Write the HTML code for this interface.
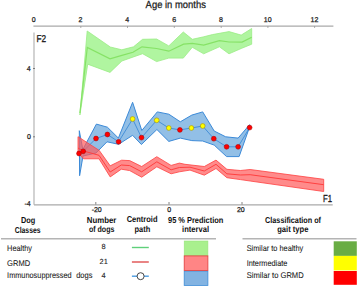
<!DOCTYPE html>
<html><head><meta charset="utf-8">
<style>
html,body{margin:0;padding:0;background:#fff;width:358px;height:287px;overflow:hidden;}
svg{display:block;}
text{font-family:"Liberation Sans", sans-serif;text-rendering:geometricPrecision;}
.ax{font-size:7px;fill:#222;stroke:#222;stroke-width:0.25px;}
.hd{font-size:8.6px;font-weight:bold;fill:#111;}
.lg{font-size:8.3px;fill:#1a1a1a;stroke:#1a1a1a;stroke-width:0.08px;}
</style></head>
<body>
<svg width="358" height="287" viewBox="0 0 358 287">
<!-- title -->
<text x="145.6" y="7.8" class="hd" style="font-weight:normal;font-size:10.3px;fill:#1a1a1a;stroke:#1a1a1a;stroke-width:0.25px" textLength="60.3" lengthAdjust="spacingAndGlyphs">Age in months</text>
<!-- top axis -->
<line x1="33.4" y1="26.2" x2="333.4" y2="26.2" stroke="#aaa" stroke-width="1.3"/>
<g class="ax" text-anchor="middle">
<text x="33.8" y="22.1">0</text>
<text x="80.5" y="22.1">2</text>
<text x="127.2" y="22.1">4</text>
<text x="174.2" y="22.1">6</text>
<text x="221" y="22.1">8</text>
<text x="267.7" y="22.1">10</text>
<text x="314.5" y="22.1">12</text>
</g>
<g stroke="#999" stroke-width="0.8">
<line x1="80.8" y1="26" x2="80.8" y2="28"/>
<line x1="127.5" y1="26" x2="127.5" y2="28"/>
<line x1="174.3" y1="26" x2="174.3" y2="28"/>
<line x1="221.2" y1="26" x2="221.2" y2="28"/>
<line x1="267.9" y1="26" x2="267.9" y2="28"/>
<line x1="314.6" y1="26" x2="314.6" y2="28"/>
</g>
<!-- left axis -->
<line x1="34" y1="32.6" x2="34" y2="204.8" stroke="#bbb" stroke-width="1.3"/>
<g stroke="#666" stroke-width="0.8">
<line x1="33" y1="68.5" x2="35" y2="68.5"/>
<line x1="33" y1="136.8" x2="35" y2="136.8"/>
</g>
<g class="ax" text-anchor="end">
<text x="30.7" y="70.6">4</text>
<text x="31" y="139.2">0</text>
<text x="30.7" y="206.3">-4</text>
</g>
<text x="36.5" y="41.9" style="font-size:9.9px;fill:#1a1a1a;stroke:#1a1a1a;stroke-width:0.3px" textLength="9.6" lengthAdjust="spacingAndGlyphs">F2</text>
<!-- bottom axis -->
<line x1="34" y1="204.8" x2="332.7" y2="204.8" stroke="#aaa" stroke-width="1.3"/>
<g stroke="#666" stroke-width="0.8">
<line x1="95.8" y1="202" x2="95.8" y2="204.5"/>
<line x1="169" y1="202" x2="169" y2="204.5"/>
<line x1="242" y1="202" x2="242" y2="204.5"/>
</g>
<g class="ax" text-anchor="middle">
<text x="96.7" y="211.6">-20</text>
<text x="169.3" y="211.6">0</text>
<text x="240.8" y="211.6">20</text>
</g>
<text x="323" y="201.7" style="font-size:10.2px;fill:#1a1a1a;stroke:#1a1a1a;stroke-width:0.3px" textLength="9" lengthAdjust="spacingAndGlyphs">F1</text>

<!-- green band -->
<polygon fill="#b0f5a0" stroke="#9bec85" stroke-width="0.8" stroke-linejoin="round" points="79.9,115 87.2,31 110.3,47 121.8,49.8 133.5,46.8 142.6,39.3 156.6,39 168.8,45.9 183.3,32 192.3,39.3 203.7,36.8 212.4,34.6 229,31.6 241.2,35.1 251.7,28.5 251.7,44.2 241.2,48.5 229,53.8 219.4,46.8 203.7,53.8 192.3,47.3 183.3,58.1 168.8,58.1 156.6,61.6 142.6,53.7 121.9,61 110,72.4 87.7,64.2"/>
<polyline fill="none" stroke="#86e266" stroke-width="1.2" points="79.9,113 87.3,47.5 110,58.9 121.9,55.4 133,52.3 142,46.8 156.6,48.5 168.8,51.2 183.6,44.2 192.3,43.3 203.7,45.1 219.4,40.7 229,42 242.1,42.1 251.7,37.2"/>

<!-- blue band -->
<polygon fill="#92bfe6" stroke="#3c8ad8" stroke-width="1" stroke-linejoin="round" points="79.3,130.7 82.8,149.5 96.4,124.1 107.4,127.2 118.4,138.1 132.6,102.3 141.8,130.5 157.3,111.9 168.8,114.2 180.3,121.8 191.8,115.1 202.7,111.9 214.2,131 225.7,136.8 238.1,138.1 249.6,124.7 249.6,127 239.1,156.6 226.6,156.6 214.2,145.1 202.7,141 191.8,140.6 180.3,138.1 168.8,141.4 156.9,129.5 141.4,144.5 132.6,135.3 118.6,144.3 107,141.8 96,153 83,156 79.6,175.7"/>
<polyline fill="none" stroke="#3d8bd6" stroke-width="0.9" points="79,153.5 83.2,151.3 96,138.5 107.4,134.5 118.6,141.8 132.6,119 141.5,137.6 156.7,120.3 168.8,128 179.9,129.9 191.4,128 202.7,126 213.8,138.7 226.6,146.8 238.1,146.8 249.6,127.6"/>

<!-- red band -->
<polygon fill="#ff5a5a" fill-opacity="0.7" stroke="#ff4040" stroke-width="0.8" stroke-linejoin="round" points="78,136.7 99.2,150.4 110.2,165.8 121.6,160.2 129.7,160.6 141.7,166.5 156.8,156.7 171.1,165.4 179.4,163.1 185,164.3 204.3,166.5 216,160.1 226.9,169.3 240.4,170.5 250.1,169.5 323.7,179.3 323.7,191.5 250.1,181 240.4,179.6 226.9,177.7 216,168.5 204.3,175.2 190,170.1 179.4,171.8 171.1,173.8 156.8,166.8 141.7,177.2 129.7,170.6 121.3,169.2 110.2,176.9 99,158.8 83.5,158.8 78,153"/>
<polyline fill="none" stroke="#ff4040" stroke-width="1" points="78,148 83.5,151 99,155.3 110.2,172 121.3,165 129.7,165.6 141.7,171.8 156.8,161.8 171.1,169.8 179.4,167.5 190,167.2 204.3,171 216,164.3 226.9,173.8 240.4,175 250.1,174.7 323.7,184.7"/>

<!-- markers -->
<g stroke="#b00000" stroke-width="0.6" fill="#ff0000">
<circle cx="79" cy="153.5" r="2.4"/>
<circle cx="83.2" cy="151.3" r="2.4"/>
<circle cx="96" cy="138.5" r="2.4"/>
<circle cx="107.4" cy="134.5" r="2.4"/>
<circle cx="118.6" cy="141.8" r="2.4"/>
<circle cx="141.5" cy="137.6" r="2.4"/>
<circle cx="179.9" cy="129.9" r="2.4"/>
<circle cx="213.8" cy="138.7" r="2.4"/>
<circle cx="226.6" cy="146.8" r="2.4"/>
<circle cx="238.1" cy="146.8" r="2.4"/>
<circle cx="249.6" cy="127.6" r="2.4"/>
</g>
<g stroke="#a89000" stroke-width="0.6" fill="#ffff00">
<circle cx="132.6" cy="119" r="2.4"/>
<circle cx="156.7" cy="120.3" r="2.4"/>
<circle cx="168.8" cy="128" r="2.4"/>
<circle cx="191.4" cy="128" r="2.4"/>
<circle cx="202.7" cy="126" r="2.4"/>
</g>

<!-- legend headers -->
<g class="hd" text-anchor="start">
<text x="20.9" y="223.1" textLength="14.3" lengthAdjust="spacingAndGlyphs">Dog</text>
<text x="14.7" y="232.6" textLength="25.9" lengthAdjust="spacingAndGlyphs">Classes</text>
<text x="86.8" y="222.7" textLength="29.5" lengthAdjust="spacingAndGlyphs">Number</text>
<text x="88.9" y="231.9" textLength="25.5" lengthAdjust="spacingAndGlyphs">of dogs</text>
<text x="126.7" y="222.3" textLength="30.8" lengthAdjust="spacingAndGlyphs">Centroid</text>
<text x="134.5" y="232.3" textLength="15.7" lengthAdjust="spacingAndGlyphs">path</text>
<text x="168" y="222.6" textLength="55.3" lengthAdjust="spacingAndGlyphs">95 % Prediction</text>
<text x="182.1" y="232.1" textLength="26.9" lengthAdjust="spacingAndGlyphs">interval</text>
<text x="265.1" y="222.6" textLength="55.9" lengthAdjust="spacingAndGlyphs">Classification of</text>
<text x="277.2" y="232" textLength="31.2" lengthAdjust="spacingAndGlyphs">gait type</text>
</g>
<line x1="1" y1="238.8" x2="216" y2="238.8" stroke="#b4b4b4" stroke-width="1.4"/>
<line x1="242.5" y1="238.7" x2="356.5" y2="238.7" stroke="#b4b4b4" stroke-width="1.4"/>

<!-- legend rows -->
<g class="lg">
<text x="7.1" y="251.1" textLength="24.9" lengthAdjust="spacingAndGlyphs">Healthy</text>
<text x="7.1" y="265.8" textLength="23.1" lengthAdjust="spacingAndGlyphs">GRMD</text>
<text x="7.1" y="277.7" textLength="64.5" lengthAdjust="spacingAndGlyphs">Immunosuppressed</text>
<text x="76.2" y="277.7" textLength="16.3" lengthAdjust="spacingAndGlyphs">dogs</text>
<text x="246.7" y="251.2" textLength="56.5" lengthAdjust="spacingAndGlyphs">Similar to healthy</text>
<text x="246.7" y="265.7" textLength="40.7" lengthAdjust="spacingAndGlyphs">Intermediate</text>
<text x="246.7" y="278" textLength="57" lengthAdjust="spacingAndGlyphs">Similar to GRMD</text>
</g>
<g class="ax" style="font-size:7.4px;fill:#222;stroke-width:0.1px" text-anchor="middle">
<text x="103.6" y="248.7">8</text>
<text x="103.7" y="264.4">21</text>
<text x="103.6" y="277.8">4</text>
</g>
<line x1="131.9" y1="247.5" x2="148.8" y2="247.5" stroke="#5fd07a" stroke-width="1.4"/>
<line x1="131.9" y1="262" x2="148.8" y2="262" stroke="#e05050" stroke-width="1.4"/>
<line x1="131.9" y1="276.2" x2="148.8" y2="276.2" stroke="#4a9be0" stroke-width="1.4"/>
<circle cx="140.6" cy="276.2" r="3.5" fill="#fff" stroke="#333" stroke-width="0.9"/>

<rect x="184.2" y="241" width="23.7" height="14.9" fill="#a9f08e" stroke="#98e47c" stroke-width="0.6"/>
<rect x="184.2" y="271" width="23.7" height="14.4" fill="#82b3e2" stroke="#3d8bd6" stroke-width="0.8"/>
<rect x="184.2" y="255.9" width="23.7" height="14.5" fill="#ff8585" stroke="#e03a3a" stroke-width="0.8"/>

<rect x="333.7" y="241.3" width="23.1" height="14.6" fill="#69ad44"/>
<rect x="333.7" y="255.9" width="23.1" height="14.5" fill="#ffff00"/>
<rect x="333.7" y="271" width="23.1" height="13.8" fill="#ff0000"/>
</svg>
</body></html>
